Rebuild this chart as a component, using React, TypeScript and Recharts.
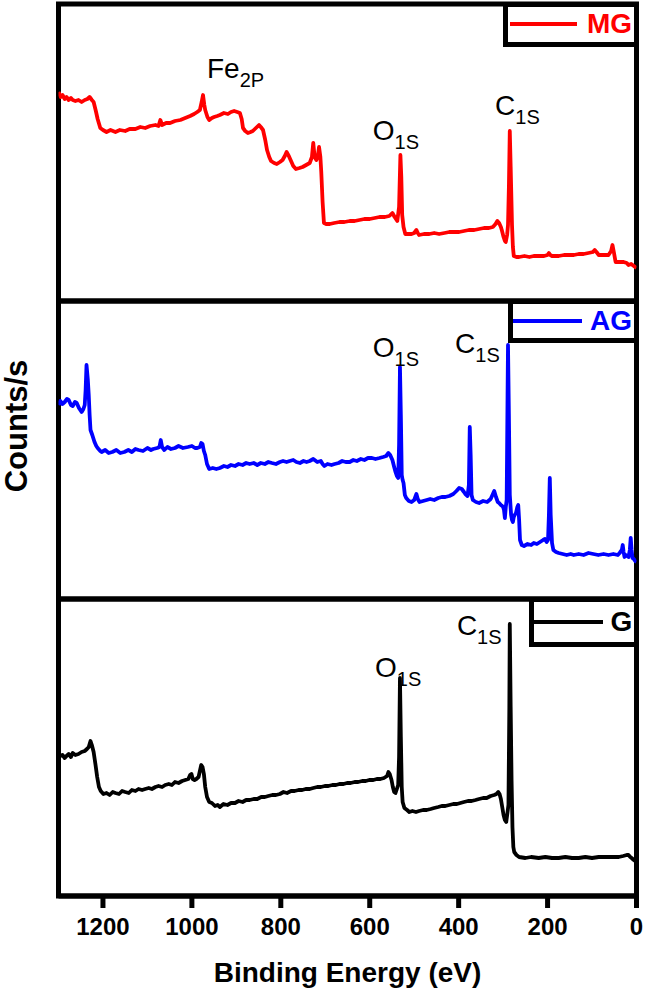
import React from 'react';
import { LineChart, Line, XAxis, YAxis, ReferenceArea, ReferenceDot, Legend } from 'recharts';

const FONT = '"Liberation Sans", Arial, Helvetica, sans-serif';

// Binding energy axis
const energyTicks = [0, 200, 400, 600, 800, 1000, 1200];
const energyDomain: [number, number] = [0, 1300];

// [binding energy (eV), counts/s (a.u.)]
const mgSpectrum: [number, number][] = [
  [1300, 205], [1295, 200], [1291, 202], [1286, 198], [1282, 200], [1277, 197], [1272, 199], [1268, 197],
  [1262, 196], [1255, 197], [1248, 195], [1241, 197], [1235, 198], [1230, 200], [1225, 197], [1221, 195],
  [1216, 186], [1212, 178], [1206, 169], [1200, 167], [1192, 165], [1183, 167], [1172, 165], [1162, 167],
  [1150, 166], [1140, 168], [1127, 168], [1116, 170], [1105, 169], [1094, 171], [1082, 172], [1075, 171],
  [1071, 177], [1067, 172], [1058, 174], [1049, 174], [1038, 176], [1026, 177], [1015, 179], [1004, 181],
  [995, 183], [988, 185], [982, 187], [978, 195], [975, 202], [972, 192], [970, 187], [965, 180], [961, 177],
  [955, 179], [950, 180], [943, 181], [937, 182], [928, 184], [919, 183], [912, 185], [905, 186], [898, 185],
  [892, 184], [888, 178], [885, 169], [880, 166], [874, 164], [868, 165], [863, 166], [856, 169], [849, 172],
  [845, 170], [840, 167], [835, 157], [831, 147], [826, 140], [822, 136], [815, 134], [809, 133], [802, 135],
  [796, 137], [791, 141], [787, 145], [782, 141], [778, 137], [772, 131], [766, 128], [758, 129], [751, 130],
  [743, 132], [735, 134], [730, 140], [727, 154], [724, 140], [720, 137], [717, 140], [714, 150], [711, 140],
  [709, 125], [706, 95], [703, 74], [698, 73], [690, 73], [680, 74], [668, 75], [657, 75], [645, 76],
  [634, 76], [623, 77], [612, 78], [600, 78], [589, 79], [578, 80], [566, 80], [556, 81], [549, 84],
  [544, 80], [538, 76], [534, 90], [531, 142], [529, 120], [527, 82], [524, 70], [520, 63], [513, 63],
  [506, 63], [500, 64], [495, 67], [492, 64], [489, 62], [478, 63], [466, 63], [455, 64], [444, 63],
  [432, 64], [421, 65], [410, 65], [399, 65], [388, 66], [377, 67], [365, 67], [354, 68], [343, 69],
  [332, 69], [323, 70], [317, 73], [313, 76], [309, 74], [305, 70], [303, 67], [299, 60], [296, 56],
  [294, 55], [291, 62], [289, 72], [287, 110], [285, 166], [283, 130], [280, 72], [278, 50], [276, 41],
  [270, 40], [264, 40], [252, 41], [241, 40], [231, 41], [220, 41], [208, 41], [200, 42], [197, 44],
  [194, 42], [190, 41], [175, 41], [163, 42], [152, 42], [141, 42], [130, 43], [119, 43], [108, 44],
  [98, 45], [94, 47], [90, 45], [85, 42], [74, 42], [63, 42], [57, 46], [54, 52], [51, 45], [47, 35],
  [38, 35], [29, 35], [22, 34], [18, 32], [12, 33], [6, 31], [0, 29],
];

const agSpectrum: [number, number][] = [
  [1300, 190], [1296, 194], [1291, 191], [1286, 193], [1281, 196], [1277, 195], [1272, 190], [1268, 189],
  [1263, 193], [1259, 192], [1254, 187], [1248, 183], [1244, 186], [1241, 190], [1239, 205], [1237, 230],
  [1234, 215], [1232, 200], [1230, 180], [1228, 165], [1224, 160], [1219, 153], [1215, 149], [1212, 147],
  [1206, 144], [1203, 143], [1195, 145], [1187, 142], [1179, 143], [1170, 145], [1161, 142], [1152, 143],
  [1143, 145], [1135, 143], [1127, 146], [1120, 145], [1110, 144], [1100, 147], [1092, 145], [1087, 146],
  [1078, 147], [1073, 148], [1070, 155], [1067, 148], [1062, 145], [1055, 148], [1047, 146], [1038, 147],
  [1030, 149], [1020, 147], [1009, 148], [1000, 149], [993, 147], [988, 147], [982, 148], [979, 152],
  [976, 151], [973, 144], [970, 140], [966, 131], [961, 126], [953, 127], [945, 126], [937, 127], [928, 129],
  [920, 128], [912, 130], [903, 129], [895, 131], [886, 130], [878, 132], [870, 131], [861, 132], [853, 130],
  [845, 132], [836, 131], [828, 133], [820, 132], [811, 131], [802, 133], [795, 134], [787, 133], [780, 134],
  [772, 135], [765, 133], [757, 132], [749, 134], [742, 133], [735, 134], [727, 136], [718, 133], [710, 134],
  [706, 131], [702, 129], [695, 131], [686, 130], [679, 131], [670, 132], [662, 134], [654, 133], [645, 133],
  [637, 135], [629, 134], [620, 136], [612, 135], [604, 137], [595, 137], [587, 136], [578, 137], [570, 138],
  [563, 139], [558, 142], [554, 140], [549, 135], [545, 128], [542, 123], [539, 119], [536, 117], [534, 150],
  [532, 228], [530, 180], [528, 120], [526, 115], [524, 112], [521, 100], [518, 97], [512, 94], [506, 93],
  [500, 95], [495, 101], [492, 96], [488, 93], [480, 94], [472, 95], [464, 96], [455, 95], [446, 97],
  [438, 98], [430, 98], [421, 99], [412, 101], [405, 104], [399, 107], [393, 106], [388, 103], [385, 101],
  [380, 99], [377, 110], [375, 168], [373, 140], [371, 100], [368, 95], [361, 93], [354, 92], [345, 94],
  [336, 93], [328, 96], [323, 101], [320, 104], [316, 98], [312, 93], [309, 92], [305, 90], [302, 89],
  [300, 88], [298, 85], [296, 77], [294, 88], [292, 95], [290, 200], [289, 250], [287, 180], [285, 100],
  [282, 80], [280, 75], [278, 73], [276, 78], [274, 80], [271, 82], [268, 88], [266, 90], [264, 75],
  [262, 55], [258, 50], [253, 49], [245, 51], [237, 50], [231, 52], [224, 51], [217, 53], [210, 55],
  [206, 56], [202, 53], [199, 55], [197, 80], [195, 117], [193, 80], [190, 52], [187, 45], [181, 43],
  [175, 42], [166, 41], [157, 40], [148, 41], [141, 40], [130, 41], [119, 40], [108, 42], [97, 41],
  [86, 40], [74, 41], [63, 40], [52, 41], [42, 40], [38, 42], [33, 45], [31, 50], [29, 43], [27, 38],
  [24, 40], [18, 38], [15, 45], [13, 57], [11, 45], [9, 37], [6, 36], [3, 34], [0, 33],
];

const gSpectrum: [number, number][] = [
  [1300, 155], [1296, 151], [1291, 152], [1286, 149], [1282, 151], [1277, 153], [1272, 150], [1268, 154],
  [1262, 152], [1255, 153], [1248, 155], [1241, 156], [1236, 158], [1232, 160], [1228, 166], [1225, 162],
  [1221, 155], [1217, 143], [1213, 130], [1209, 120], [1205, 116], [1199, 113], [1192, 114], [1185, 112],
  [1178, 115], [1172, 114], [1164, 113], [1157, 116], [1150, 115], [1142, 114], [1135, 117], [1127, 116],
  [1120, 118], [1112, 117], [1105, 118], [1097, 119], [1090, 118], [1082, 120], [1075, 121], [1067, 120],
  [1060, 122], [1052, 123], [1045, 122], [1038, 125], [1030, 124], [1022, 126], [1015, 127], [1008, 128],
  [1004, 132], [1001, 133], [998, 128], [994, 127], [990, 128], [985, 130], [981, 138], [979, 142],
  [976, 140], [973, 133], [970, 120], [966, 110], [961, 105], [955, 104], [948, 101], [942, 102], [937, 100],
  [929, 103], [920, 102], [912, 104], [903, 104], [895, 106], [886, 105], [878, 107], [870, 107], [861, 108],
  [853, 108], [844, 110], [836, 110], [828, 111], [819, 112], [811, 112], [802, 113], [794, 115], [786, 114],
  [777, 116], [769, 116], [760, 117], [752, 117], [744, 118], [735, 118], [727, 119], [718, 120], [710, 120],
  [701, 121], [693, 121], [684, 122], [676, 122], [668, 123], [659, 123], [651, 124], [643, 124], [634, 125],
  [626, 125], [617, 126], [609, 126], [601, 127], [592, 127], [584, 128], [576, 128], [568, 129], [561, 131],
  [558, 135], [555, 133], [551, 127], [548, 120], [545, 115], [542, 114], [539, 118], [536, 122], [534, 150],
  [532, 229], [530, 170], [528, 120], [526, 105], [522, 99], [516, 97], [511, 95], [504, 96], [496, 95],
  [489, 96], [480, 97], [472, 97], [463, 98], [455, 99], [446, 100], [438, 101], [430, 101], [421, 102],
  [412, 103], [404, 103], [396, 104], [388, 105], [379, 106], [371, 106], [362, 107], [354, 108], [345, 109],
  [337, 109], [328, 111], [320, 112], [315, 113], [311, 115], [308, 113], [305, 108], [302, 100], [299, 92],
  [296, 87], [293, 85], [290, 95], [288, 102], [286, 200], [285, 283], [283, 200], [281, 127], [279, 80],
  [277, 60], [275, 55], [270, 52], [264, 50], [250, 49], [237, 50], [220, 49], [205, 50], [190, 49],
  [175, 49], [160, 50], [145, 49], [130, 49], [115, 50], [100, 49], [85, 50], [70, 50], [55, 50],
  [40, 50], [30, 51], [22, 52], [18, 52], [14, 50], [11, 49], [6, 47], [3, 46], [0, 45],
];

// Peak labels: [binding energy, counts, main text, subscript]
const mgPeakLabels: [number, number, string, string][] = [
  [966, 219, 'Fe', '2P'],
  [593, 157, 'O', '1S'],
  [318, 182, 'C', '1S'],
];
const agPeakLabels: [number, number, string, string][] = [
  [593, 238, 'O', '1S'],
  [408, 242, 'C', '1S'],
];
const gPeakLabels: [number, number, string, string][] = [
  [588, 230, 'O', '1S'],
  [404, 272, 'C', '1S'],
];

const mgDomain: [number, number] = [-4, 293];
const agDomain: [number, number] = [-4, 294];
const gDomain: [number, number] = [11, 308];

const toRows = (s: [number, number][]) => s.map(([be, counts]) => ({ be, counts }));

const PeakText = (props: any) => {
  const { cx, cy, main, sub } = props;
  return (
    <text x={cx} y={cy} fontFamily={FONT} fontSize={28} fill="#000">
      {main}
      <tspan fontSize={20} dy={9}>{sub}</tspan>
    </text>
  );
};

const LegendBox = ({ name, color, pad, lineW, gap }: any) => (
  <div
    style={{
      width: '100%',
      height: '100%',
      boxSizing: 'border-box',
      border: '5px solid #000',
      background: '#fff',
      display: 'flex',
      alignItems: 'center',
      paddingLeft: pad,
    }}
  >
    <div style={{ width: lineW, height: 4, background: color }} />
    <div
      style={{
        marginLeft: gap,
        color,
        fontFamily: FONT,
        fontWeight: 'bold',
        fontSize: 28,
        lineHeight: '28px',
      }}
    >
      {name}
    </div>
  </div>
);

const PLOT_LEFT = 58.5;
const PLOT_RIGHT_MARGIN = 9.5;

function Panel(props: any) {
  const {
    data, color, name, domain, top, height, margin, showAxis, labels, legendPos, legendStyle, yLabel,
  } = props;
  return (
    <div style={{ position: 'absolute', left: 0, top, width: 646, height }}>
      <LineChart width={646} height={height} data={data} margin={margin}>
        <XAxis
          dataKey="be"
          type="number"
          domain={energyDomain}
          ticks={energyTicks}
          reversed
          allowDataOverflow
          hide={!showAxis}
          height={showAxis ? 90 : 0}
          interval={0}
          tickSize={12}
          tickMargin={10}
          axisLine={{ stroke: '#000', strokeWidth: 5 }}
          tickLine={{ stroke: '#000', strokeWidth: 5 }}
          tick={{ fill: '#000', fontSize: 24, fontWeight: 'bold', fontFamily: FONT }}
          label={
            showAxis
              ? (p: any) => (
                  <text
                    x={p.viewBox.x + p.viewBox.width / 2}
                    y={p.viewBox.y + 86}
                    textAnchor="middle"
                    fontFamily={FONT}
                    fontWeight="bold"
                    fontSize={28}
                    fill="#000"
                  >
                    Binding Energy (eV)
                  </text>
                )
              : undefined
          }
        />
        <YAxis
          type="number"
          domain={domain}
          allowDataOverflow
          hide={!yLabel}
          width={yLabel ? PLOT_LEFT : 0}
          tick={false}
          axisLine={false}
          tickLine={false}
          label={
            yLabel
              ? (p: any) => {
                  const x = 27;
                  const y = p.viewBox.y + p.viewBox.height / 2 - 24;
                  return (
                    <text
                      x={x}
                      y={y}
                      transform={`rotate(-90 ${x} ${y})`}
                      textAnchor="middle"
                      fontFamily={FONT}
                      fontWeight="bold"
                      fontSize={31}
                      fill="#000"
                    >
                      {yLabel}
                    </text>
                  );
                }
              : undefined
          }
        />
        <ReferenceArea
          x1={energyDomain[0]}
          x2={energyDomain[1]}
          y1={domain[0]}
          y2={domain[1]}
          fill="none"
          fillOpacity={0}
          stroke="#000"
          strokeWidth={5}
          ifOverflow="visible"
        />
        <Line
          type="linear"
          dataKey="counts"
          name={name}
          stroke={color}
          strokeWidth={3.8}
          strokeLinejoin="round"
          dot={false}
          activeDot={false}
          isAnimationActive={false}
        />
        {labels.map(([be, c, main, sub]: [number, number, string, string], i: number) => (
          <ReferenceDot
            key={i}
            x={be}
            y={c}
            r={0}
            ifOverflow="visible"
            shape={(sp: any) => <PeakText cx={sp.cx} cy={sp.cy} main={main} sub={sub} />}
          />
        ))}
        <Legend
          layout="vertical"
          align="center"
          verticalAlign="middle"
          wrapperStyle={{ position: 'absolute', margin: 0, padding: 0, ...legendPos }}
          content={() => <LegendBox name={name} color={color} {...legendStyle} />}
        />
      </LineChart>
    </div>
  );
}

export default function App() {
  return (
    <div
      style={{
        position: 'absolute',
        left: 0,
        top: 0,
        width: 646,
        height: 997,
        background: '#fff',
        overflow: 'hidden',
      }}
    >
      <Panel
        data={toRows(mgSpectrum)}
        color="#ff0000"
        name="MG"
        domain={mgDomain}
        top={0}
        height={305}
        margin={{ top: 4, bottom: 4, left: PLOT_LEFT, right: PLOT_RIGHT_MARGIN }}
        showAxis={false}
        labels={mgPeakLabels}
        legendPos={{ left: 502.5, top: 1.5, width: 136.5, height: 45 }}
        legendStyle={{ pad: 2.5, lineW: 67, gap: 10 }}
      />
      <Panel
        data={toRows(agSpectrum)}
        color="#0000ff"
        name="AG"
        domain={agDomain}
        top={297}
        height={306}
        margin={{ top: 4, bottom: 4, left: 0, right: PLOT_RIGHT_MARGIN }}
        showAxis={false}
        labels={agPeakLabels}
        legendPos={{ left: 507.5, top: 1.5, width: 131.5, height: 44 }}
        legendStyle={{ pad: 0.5, lineW: 69, gap: 8 }}
        yLabel="Counts/s"
      />
      <Panel
        data={toRows(gSpectrum)}
        color="#000000"
        name="G"
        domain={gDomain}
        top={595}
        height={402}
        margin={{ top: 4, bottom: 11, left: PLOT_LEFT, right: PLOT_RIGHT_MARGIN }}
        showAxis
        labels={gPeakLabels}
        legendPos={{ left: 528.5, top: 1.5, width: 110.5, height: 50 }}
        legendStyle={{ pad: 0, lineW: 69, gap: 8 }}
      />
    </div>
  );
}
